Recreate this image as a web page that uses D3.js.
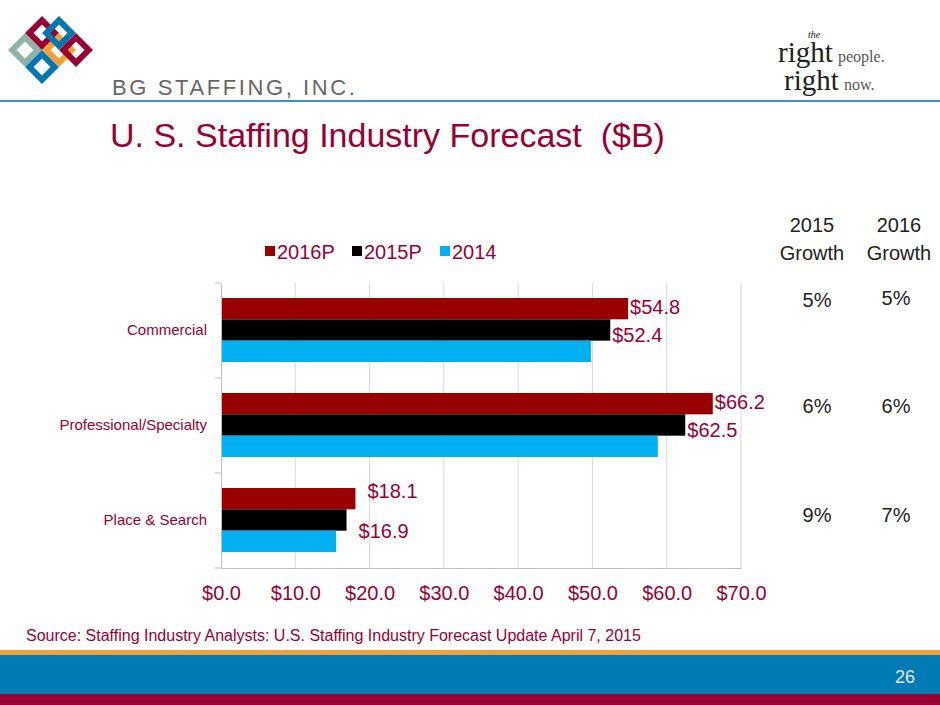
<!DOCTYPE html>
<html><head><meta charset="utf-8">
<script src="https://cdn.jsdelivr.net/npm/d3@7"></script>
<style>body{margin:0;background:#fff}svg{font-family:Arial,"Liberation Sans",sans-serif}text{white-space:pre}</style>
</head><body><svg id="c" width="940" height="705"></svg>
<script>
var categories = ["Commercial", "Professional/Specialty", "Place & Search"];
var seriesNames = ["2016P", "2015P", "2014"];
var v2016 = [54.8, 66.2, 18.1];
var v2015 = [52.4, 62.5, 16.9];
var v2014 = [49.8, 58.8, 15.5];
var growth2015 = ["5%", "6%", "9%"];
var growth2016 = ["5%", "6%", "7%"];
var xTicks = [0, 10, 20, 30, 40, 50, 60, 70];
var colors = ["#990000", "#000000", "#00b0f0"];

var svg = d3.select("#c");
var series = [v2016, v2015, v2014];

// header
svg.append("rect").attr("x", 0).attr("y", 100).attr("width", 940).attr("height", 2).attr("fill", "#3a8fc4");
var logo = svg.append("g").attr("fill", "none").attr("stroke-width", 6);
[[25, 50, "#8fb3a6"], [42, 33, "#990033"], [42, 67, "#0077b0"], [59, 50, "#f4a035"], [76, 50, "#990033"], [59, 33, "#0077b0"]].forEach(function (d) {
  logo.append("rect").attr("x", d[0] - 9).attr("y", d[1] - 9).attr("width", 18).attr("height", 18)
    .attr("stroke", d[2]).attr("transform", "rotate(45," + d[0] + "," + d[1] + ")");
});
svg.append("text").attr("x", 112).attr("y", 95).attr("font-size", 22).attr("fill", "#666")
  .attr("letter-spacing", 2.6).text("BG STAFFING, INC.");
var rp = svg.append("g").attr("font-family", "Liberation Serif,serif").attr("fill", "#222");
rp.append("text").attr("x", 778).attr("y", 62).attr("font-size", 29).text("right");
rp.append("text").attr("x", 838).attr("y", 62).attr("font-size", 16).attr("fill", "#555").text("people.");
rp.append("text").attr("x", 784).attr("y", 90).attr("font-size", 29).text("right");
rp.append("text").attr("x", 844).attr("y", 90).attr("font-size", 16).attr("fill", "#555").text("now.");
rp.append("text").attr("x", 808).attr("y", 38).attr("font-size", 10).attr("font-style", "italic").text("the");

svg.append("text").attr("x", 110).attr("y", 147).attr("font-size", 34).attr("fill", "#990033")
  .text("U. S. Staffing Industry Forecast  ($B)");

// chart
var x = d3.scaleLinear().domain([0, 70]).range([221, 741]);
var y = d3.scaleBand().domain(categories).range([283, 568]);
var inner = d3.scaleBand().domain(seriesNames).range([15, 79]);

svg.append("g").selectAll("line").data(xTicks.slice(1)).enter().append("line")
  .attr("x1", x).attr("x2", x).attr("y1", 283).attr("y2", 568).attr("stroke", "#d9d9d9");

categories.forEach(function (c, ci) {
  series.forEach(function (s, si) {
    svg.append("rect").attr("x", x(0)).attr("y", y(c) + inner(seriesNames[si]))
      .attr("width", x(s[ci]) - x(0)).attr("height", inner.bandwidth()).attr("fill", colors[si]);
  });
});

var labs = [[v2016, 0, -3], [v2015, 1, 4]];
categories.forEach(function (c, ci) {
  var off = ci === 2 ? [ -6, 6] : [0, 0];
  labs.forEach(function (l, li) {
    var yy = y(c) + inner(seriesNames[l[1]]) + inner.bandwidth() / 2 + 8 + l[2] + off[li];
    svg.append("text").attr("x", x(l[0][ci]) + (ci === 2 ? 12 : 2)).attr("y", yy)
      .attr("font-size", 20).attr("fill", "#990033").text("$" + l[0][ci].toFixed(1));
  });
});

var ya = svg.append("g").attr("transform", "translate(221,0)")
  .call(d3.axisLeft(y).tickSize(0).tickPadding(14));
ya.selectAll("text").attr("font-size", 15).attr("fill", "#990033");
ya.select(".domain").attr("stroke", "#bfbfbf");
svg.append("g").selectAll("line").data([283, 378, 473, 568]).enter().append("line")
  .attr("x1", 215).attr("x2", 221).attr("y1", d => d).attr("y2", d => d).attr("stroke", "#bfbfbf");

var xa = svg.append("g").attr("transform", "translate(0,568)")
  .call(d3.axisBottom(x).tickValues(xTicks).tickSize(0).tickPadding(18).tickFormat(d => "$" + d.toFixed(1)));
xa.selectAll("text").attr("font-size", 20).attr("fill", "#990033");
xa.select(".domain").attr("stroke", "#bfbfbf");

// legend
var lg = svg.append("g");
var lx = [265, 352, 440];
seriesNames.forEach(function (n, i) {
  lg.append("rect").attr("x", lx[i]).attr("y", 246).attr("width", 10).attr("height", 10).attr("fill", colors[i]);
  lg.append("text").attr("x", lx[i] + 12).attr("y", 259).attr("font-size", 20).attr("fill", "#990033").text(n);
});

// growth columns
[["2015", "Growth", 812], ["2016", "Growth", 899]].forEach(function (h) {
  svg.append("text").attr("x", h[2]).attr("y", 232).attr("text-anchor", "middle").attr("font-size", 20).attr("fill", "#222").text(h[0]);
  svg.append("text").attr("x", h[2]).attr("y", 260).attr("text-anchor", "middle").attr("font-size", 20).attr("fill", "#222").text(h[1]);
});
var gy = [307, 413, 522];
growth2015.forEach(function (g, i) {
  svg.append("text").attr("x", 817).attr("y", gy[i]).attr("text-anchor", "middle").attr("font-size", 20).attr("fill", "#222").text(g);
  svg.append("text").attr("x", 896).attr("y", gy[i] - (i === 0 ? 2 : 0)).attr("text-anchor", "middle").attr("font-size", 20).attr("fill", "#222").text(growth2016[i]);
});

svg.append("text").attr("x", 26).attr("y", 641).attr("font-size", 16).attr("fill", "#990033")
  .text("Source: Staffing Industry Analysts: U.S. Staffing Industry Forecast Update April 7, 2015");

// footer
svg.append("rect").attr("x", 0).attr("y", 650).attr("width", 940).attr("height", 5).attr("fill", "#f4a035");
svg.append("rect").attr("x", 0).attr("y", 655).attr("width", 940).attr("height", 39).attr("fill", "#007bb3");
svg.append("rect").attr("x", 0).attr("y", 694).attr("width", 940).attr("height", 11).attr("fill", "#990033");
svg.append("text").attr("x", 915).attr("y", 683).attr("text-anchor", "end").attr("font-size", 18).attr("fill", "#e8e8e8").text("26");
</script></body></html>
